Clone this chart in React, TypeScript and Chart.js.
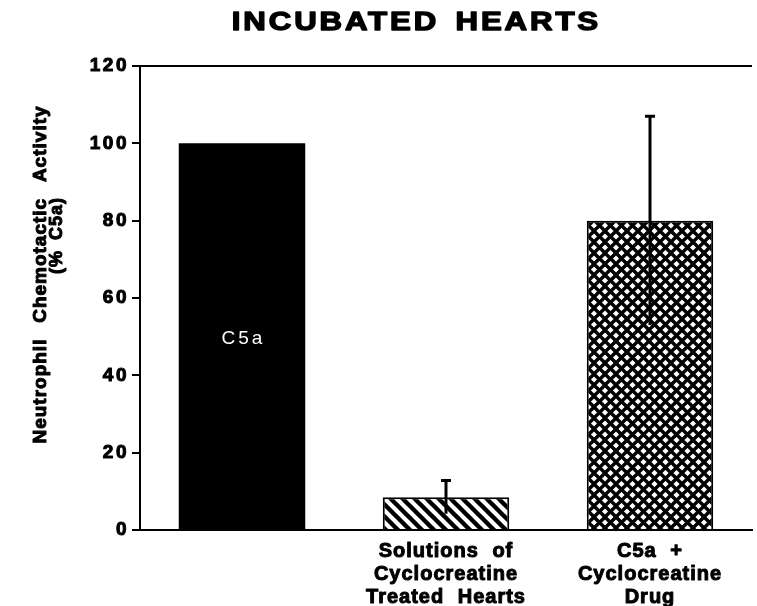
import React, { useEffect, useRef } from 'react';
import { Chart, registerables } from 'chart.js';

Chart.register(...registerables);

const FONT = '"Liberation Sans", Arial, Helvetica, sans-serif';

const categories: (string | string[])[] = [
  '',
  ['Solutions of', 'Cyclocreatine', 'Treated Hearts'],
  ['C5a +', 'Cyclocreatine', 'Drug'],
];
const values = [100, 8.5, 80];
const errors = [0, 4.3, 27];
const fills = ['solid', 'hatch', 'cross'];
const inBarLabels = ['C5a', '', ''];
const inBarLabelValue = 50;
const yTicks = [0, 20, 40, 60, 80, 100, 120];
const titleText = 'INCUBATED HEARTS';
const yTitleLines = ['Neutrophil Chemotactic Activity', '(% C5a)'];

function makePattern(kind: string): CanvasPattern | string {
  if (kind === 'solid') return '#000';
  const p = kind === 'hatch' ? 12 : 11;
  const c = document.createElement('canvas');
  c.width = p;
  c.height = p;
  const g = c.getContext('2d')!;
  g.fillStyle = '#fff';
  g.fillRect(0, 0, p, p);
  g.strokeStyle = '#000';
  g.lineCap = 'square';
  g.lineWidth = kind === 'hatch' ? 4.4 : 3.4;
  for (const x0 of [-p, 0, p]) {
    g.beginPath();
    g.moveTo(x0, 0);
    g.lineTo(x0 + p, p);
    g.stroke();
    if (kind === 'cross') {
      g.beginPath();
      g.moveTo(x0, p);
      g.lineTo(x0 + p, 0);
      g.stroke();
    }
  }
  return g.createPattern(c, 'repeat')!;
}

function drawText(
  ctx: CanvasRenderingContext2D,
  text: string,
  x: number,
  y: number,
  font: string,
  sx: number,
  ls: number,
  ws: number,
  rotate: boolean,
  color: string,
  stroke: number,
) {
  ctx.save();
  ctx.translate(x, y);
  if (rotate) ctx.rotate(-Math.PI / 2);
  ctx.scale(sx, 1);
  ctx.font = font;
  (ctx as any).letterSpacing = ls + 'px';
  (ctx as any).wordSpacing = ws + 'px';
  ctx.fillStyle = color;
  ctx.strokeStyle = color;
  ctx.lineJoin = 'round';
  ctx.textAlign = 'center';
  ctx.textBaseline = 'alphabetic';
  if (stroke > 0) {
    ctx.lineWidth = stroke;
    ctx.strokeText(text, ls / 2, 0);
  }
  ctx.fillText(text, ls / 2, 0);
  ctx.restore();
}

const spacingPlugin = {
  id: 'spacingPlugin',
  beforeDraw(chart: any) {
    const wrap = (scale: any, ls: string, ws: string) => {
      if (!scale || scale.__wrapped) return;
      const orig = scale.drawLabels.bind(scale);
      scale.drawLabels = (area: any) => {
        const c = chart.ctx;
        c.save();
        c.letterSpacing = ls;
        c.wordSpacing = ws;
        c.lineJoin = 'round';
        orig(area);
        c.restore();
      };
      scale.__wrapped = true;
    };
    wrap(chart.scales.x, '1px', '7px');
    wrap(chart.scales.y, '2.5px', '0px');
  },
};

const decorPlugin = {
  id: 'decorPlugin',
  afterDatasetsDraw(chart: any) {
    const ctx: CanvasRenderingContext2D = chart.ctx;
    const yScale = chart.scales.y;
    const meta = chart.getDatasetMeta(0);
    ctx.save();
    ctx.strokeStyle = '#000';
    ctx.lineWidth = 3;
    meta.data.forEach((bar: any, i: number) => {
      const e = errors[i];
      if (!e) return;
      const top = yScale.getPixelForValue(values[i] + e);
      const bot = yScale.getPixelForValue(values[i] - e);
      ctx.beginPath();
      ctx.moveTo(bar.x, bot);
      ctx.lineTo(bar.x, top);
      ctx.stroke();
      ctx.beginPath();
      ctx.moveTo(bar.x - 5, top);
      ctx.lineTo(bar.x + 5, top);
      ctx.stroke();
    });
    ctx.restore();
    meta.data.forEach((bar: any, i: number) => {
      if (!inBarLabels[i]) return;
      const y = yScale.getPixelForValue(inBarLabelValue);
      drawText(ctx, inBarLabels[i], bar.x, y + 7, `19px ${FONT}`, 1, 3, 0, false, '#fff', 0);
    });
  },
  afterDraw(chart: any) {
    const ctx: CanvasRenderingContext2D = chart.ctx;
    drawText(ctx, titleText, 415, 30, `bold 26px ${FONT}`, 1.2, 2.4, 4, false, '#000', 1.4);
    drawText(ctx, yTitleLines[0], 46, 275, `bold 18px ${FONT}`, 1.05, 1, 9, true, '#000', 1);
    drawText(ctx, yTitleLines[1], 62, 236, `bold 18px ${FONT}`, 1.0, 1, 4, true, '#000', 1);
  },
};

export default function App() {
  const ref = useRef<HTMLCanvasElement | null>(null);
  useEffect(() => {
    if (!ref.current) return;
    const chart = new Chart(ref.current, {
      type: 'bar',
      data: {
        labels: categories as any,
        datasets: [
          {
            data: values,
            backgroundColor: fills.map(makePattern) as any,
            borderColor: '#000',
            borderWidth: fills.map((f) => (f === 'solid' ? 0 : 2)),
            borderSkipped: 'bottom',
            barPercentage: 0.62,
            categoryPercentage: 1,
          },
        ],
      },
      options: {
        animation: false,
        responsive: true,
        maintainAspectRatio: false,
        layout: { padding: { top: 66, right: 5, left: 0, bottom: 0 } },
        plugins: {
          legend: { display: false },
          tooltip: { enabled: false },
          title: { display: false },
        },
        scales: {
          x: {
            grid: { display: false, drawTicks: false },
            border: { display: true, color: '#000', width: 2 },
            ticks: {
              color: '#000',
              font: { family: FONT, size: 20, weight: 'bold', lineHeight: '23px' } as any,
              padding: 10,
              maxRotation: 0,
              minRotation: 0,
              autoSkip: false,
              textStrokeColor: '#000',
              textStrokeWidth: 1,
            } as any,
            afterFit: (s: any) => {
              s.height = 76;
            },
          },
          y: {
            min: 0,
            max: 120,
            grid: {
              color: (c: any) => (c.tick && c.tick.value === 120 ? '#000' : 'rgba(0,0,0,0)'),
              lineWidth: 2,
              tickColor: '#000',
              tickLength: 8,
              tickWidth: 2,
              drawTicks: true,
            },
            border: { display: true, color: '#000', width: 2 },
            ticks: {
              stepSize: 20,
              color: '#000',
              font: { family: FONT, size: 19, weight: 'bold' } as any,
              padding: 3,
              textStrokeColor: '#000',
              textStrokeWidth: 1,
            } as any,
            afterBuildTicks: (s: any) => {
              s.ticks = yTicks.map((v) => ({ value: v }));
            },
            afterFit: (s: any) => {
              s.width = 140;
            },
          },
        },
      },
      plugins: [spacingPlugin, decorPlugin],
    });
    return () => chart.destroy();
  }, []);
  return (
    <div style={{ position: 'absolute', left: 0, top: 0, width: 757, height: 606, background: '#fff' }}>
      <canvas ref={ref} />
    </div>
  );
}
